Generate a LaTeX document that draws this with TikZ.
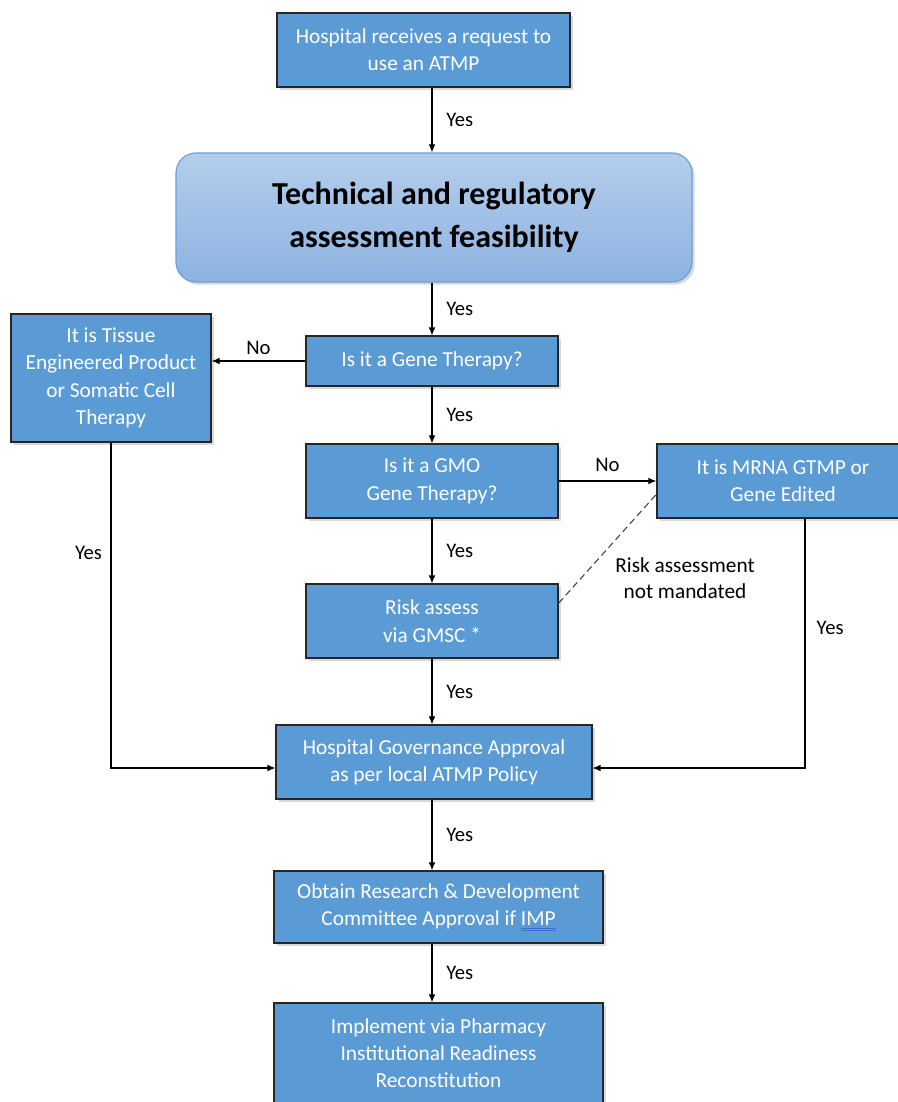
\documentclass[tikz,border=0pt]{standalone}
\usepackage{fontspec}
\setmainfont{Carlito}
\usetikzlibrary{shadows, arrows.meta}
\definecolor{boxblue}{HTML}{5B9BD5}
\definecolor{titletop}{HTML}{B4CDEB}
\definecolor{titlebottom}{HTML}{8DB3E2}
\definecolor{titleline}{HTML}{6FA1D7}
\definecolor{ulblue}{HTML}{3B6FD6}
\newcommand{\dblul}[1]{\setbox0\hbox{#1}\rlap{\color{ulblue}\rule[-2.4pt]{\wd0}{0.5pt}}\rlap{\color{ulblue}\rule[-3.8pt]{\wd0}{0.5pt}}\box0}

\begin{document}
\begin{tikzpicture}[x=0.75pt, y=-0.75pt, >={Latex[length=6pt, width=5pt]}]
				% Setup the styles for the boxes and the labels
				\tikzset{box style/.style={rectangle,
											draw=black!85,
											line width=0.9pt,
											fill=boxblue,
											text=white,
											align=center,
											font=\fontsize{16}{20.5}\selectfont,
											drop shadow={shadow xshift=2pt, shadow yshift=-2pt, opacity=0.3}},
						title style/.style={rectangle, rounded corners=15pt,
											draw=titleline,
											line width=0.9pt,
											top color=titletop,
											bottom color=titlebottom,
											align=center,
											font=\fontsize{24}{32}\selectfont\bfseries,
											drop shadow={shadow xshift=2pt, shadow yshift=-2pt, opacity=0.3}},
						label style/.style={font=\fontsize{15.5}{18}\selectfont},
						note style/.style={align=center, font=\fontsize{16}{20}\selectfont}}
				\useasboundingbox (0,0) rectangle (898,1102);
				\clip (0,0) rectangle (898,1102);
				% Draw the boxes
				\node[box style, minimum width=219.75pt, minimum height=55.5pt] at (423.5, 50)   (request) {Hospital receives a request to\\use an ATMP};
				\node[title style, minimum width=387pt, minimum height=96.75pt] at (434, 217.5) (feasibility) {Technical and regulatory\\assessment feasibility};
				\node[box style, minimum width=189pt, minimum height=37.5pt]  at (432, 361)     (gene)    {Is it a Gene Therapy?};
				\node[box style, minimum width=150pt, minimum height=96pt]    at (111, 378)     (tissue)  {It is Tissue\\Engineered Product\\or Somatic Cell\\Therapy};
				\node[box style, minimum width=189pt, minimum height=55.5pt]  at (432, 481)     (gmo)     {Is it a GMO\\Gene Therapy?};
				\node[box style, minimum width=189pt, minimum height=55.5pt]  at (783, 481)     (mrna)    {It is MRNA GTMP or\\Gene Edited};
				\node[box style, minimum width=189pt, minimum height=55.5pt]  at (432, 621)     (risk)    {Risk assess\\via GMSC *};
				\node[box style, minimum width=237pt, minimum height=55.5pt]  at (434, 762)     (approval) {Hospital Governance Approval\\as per local ATMP Policy};
				\node[box style, minimum width=246.75pt, minimum height=54pt] at (438.5, 907)   (rnd)     {Obtain Research \& Development\\Committee Approval if \dblul{IMP}};
				\node[box style, minimum width=246.75pt, minimum height=75pt] at (438.5, 1053)  (pharmacy) {Implement via Pharmacy\\Institutional Readiness\\Reconstitution};
				\node[note style] at (685, 578) (note) {Risk assessment\\not mandated};
				% Connect the boxes with arrows
				\draw[->, line width=0.8pt]
					(request.south -| gene) -- node[midway, right=7pt, label style] {Yes} (feasibility.north -| gene);
				\draw[->, line width=0.8pt]
					(feasibility.south -| gene) -- node[midway, right=7pt, label style] {Yes} (gene.north);
				\draw[->, line width=0.8pt]
					(gene.west) -- node[midway, above=1pt, label style] {No} (gene.west -| tissue.east);
				\draw[->, line width=0.8pt]
					(gene.south) -- node[midway, right=7pt, label style] {Yes} (gmo.north);
				\draw[->, line width=0.8pt]
					(gmo.east) -- node[midway, above=3pt, label style] {No} (mrna.west);
				\draw[->, line width=0.8pt]
					(gmo.south) -- node[midway, right=7pt, label style] {Yes} (risk.north);
				\draw[->, line width=0.8pt]
					(risk.south) -- node[midway, right=7pt, label style] {Yes} (approval.north -| gene);
				\draw[->, line width=0.8pt]
					(tissue.south) |- node[pos=0.17, left=3pt, label style] {Yes} ([yshift=-4.5pt]approval.west);
				\draw[->, line width=0.8pt]
					(mrna.south -| 805, 0) |- node[pos=0.22, right=5pt, label style] {Yes} ([yshift=-4.5pt]approval.east);
				\draw[->, line width=0.8pt]
					(approval.south -| gene) -- node[midway, right=7pt, label style] {Yes} (rnd.north -| gene);
				\draw[->, line width=0.8pt]
					(rnd.south -| gene) -- node[midway, right=7pt, label style] {Yes} (pharmacy.north -| gene);
				\draw[dashed, dash pattern=on 5pt off 3pt, line width=0.8pt, black!75]
					(risk.8) -- (mrna.186);
			\end{tikzpicture}
\end{document}
